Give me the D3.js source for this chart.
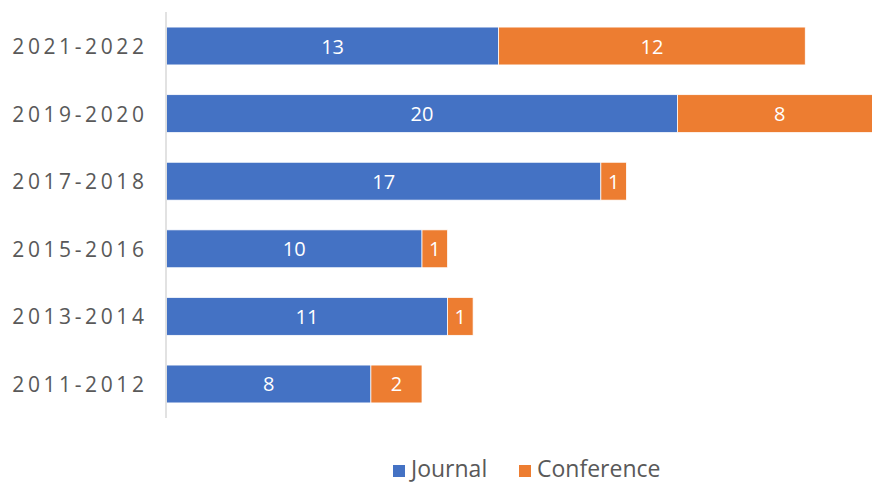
<!doctype html>
<html>
<head>
  <meta charset="utf-8">
  <title>Journal vs Conference</title>
  <script src="https://d3js.org/d3.v7.min.js"></script>
  <style>
    body { margin:0; background:#fff; }
    svg { display:block; font-family:"Open Sans", "Noto Sans", sans-serif; }
    .cat { font-size:21px; fill:#595959; letter-spacing:3.6px; }
    .val { font-size:20px; fill:#fff; }
    .leg { font-size:23px; fill:#595959; }
  </style>
</head>
<body>
  <svg id="chart" width="872" height="483"></svg>
  <script>
    const periods    = ["2021-2022", "2019-2020", "2017-2018", "2015-2016", "2013-2014", "2011-2012"];
    const journal    = [13, 20, 17, 10, 11, 8];
    const conference = [12, 8, 1, 1, 1, 2];
    const seriesNames  = ["Journal", "Conference"];
    const seriesColors = ["#4472c4", "#ed7d31"];

    const svg = d3.select("#chart");
    const W = 872, H = 483;

    const x = d3.scaleLinear().domain([0, 1]).range([166.5, 166.5 + 25.55]);
    const y = d3.scaleBand().domain(periods).range([12, 418])
      .paddingInner(0.44).paddingOuter(0.223);

    const rows = periods.map((p, i) => ({ p, vals: [journal[i], conference[i]] }));

    svg.append("defs").append("clipPath").attr("id", "clip")
      .append("rect").attr("x", 0).attr("y", 0).attr("width", W).attr("height", H);

    const g = svg.append("g").attr("clip-path", "url(#clip)");

    rows.forEach(r => {
      let acc = 0;
      r.vals.forEach((v, k) => {
        const x0 = x(acc), x1 = x(acc + v);
        g.append("rect")
          .attr("x", x0).attr("y", y(r.p))
          .attr("width", x1 - x0).attr("height", y.bandwidth())
          .attr("fill", seriesColors[k])
          .attr("stroke", "#fff").attr("stroke-width", 0.75);
        g.append("text").attr("class", "val")
          .attr("x", (x0 + x1) / 2).attr("y", y(r.p) + y.bandwidth() / 2)
          .attr("text-anchor", "middle").attr("dominant-baseline", "central")
          .text(v);
        acc += v;
      });
    });

    // category axis
    svg.append("line")
      .attr("x1", 166).attr("x2", 166).attr("y1", 12).attr("y2", 418)
      .attr("stroke", "#d9d9d9").attr("stroke-width", 1.5);

    svg.selectAll("text.cat").data(periods).enter().append("text")
      .attr("class", "cat")
      .attr("x", 147.5).attr("y", d => y(d) + y.bandwidth() / 2)
      .attr("text-anchor", "end").attr("dominant-baseline", "central")
      .text(d => d);

    // legend
    const legX = [393, 519];
    seriesNames.forEach((n, k) => {
      svg.append("rect").attr("x", legX[k]).attr("y", 465)
        .attr("width", 12).attr("height", 12).attr("fill", seriesColors[k]);
      svg.append("text").attr("class", "leg")
        .attr("x", legX[k] + 18).attr("y", 477)
        .text(n);
    });
  </script>
</body>
</html>
